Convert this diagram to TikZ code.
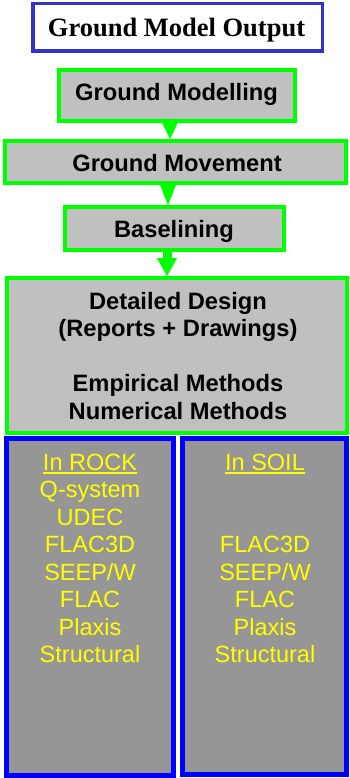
\documentclass[tikz,border=0pt]{standalone}
\usepackage{fontspec}
\setmainfont{Liberation Sans}
\newfontfamily\titlefont{Liberation Serif}
\usetikzlibrary{arrows.meta}
\definecolor{grn}{HTML}{00FF00}
\definecolor{lgrey}{HTML}{C0C0C0}
\definecolor{dgrey}{HTML}{969696}
\definecolor{tblue}{HTML}{3333CC}
\definecolor{bblue}{HTML}{0000FF}
\definecolor{ylw}{HTML}{FFFF00}
\newcommand{\myul}[1]{\setbox0\hbox{#1}\rlap{\rule[-3.3pt]{\wd0}{2pt}}\box0}
\begin{document}
\begin{tikzpicture}[x=1pt,y=-1pt,
  titlebox/.style={draw=tblue, line width=3.5pt, fill=white, inner sep=0pt},
  greenbox/.style={draw=grn, line width=4pt, fill=lgrey, inner sep=0pt},
  bluebox/.style={draw=bblue, line width=5pt, fill=dgrey, inner sep=0pt},
  btxt/.style={anchor=base, inner sep=0pt, font=\bfseries\fontsize{23.7}{27.5}\selectfont},
  ytxt/.style={anchor=base, inner sep=0pt, text=ylw, font=\fontsize{23.5}{27.5}\selectfont},
  tip/.style={draw=grn, fill=grn, line width=0.1pt, -{Triangle[length=#1,width=19pt,line width=0.1pt]}},
  shafttip/.style={draw=grn, line width=9pt, -{Triangle[length=18pt,width=20pt,line width=0.1pt]}}
]
\useasboundingbox[fill=white] (0,0) rectangle (349,778);

% boxes
\node[titlebox, minimum width=289.5pt, minimum height=47.5pt] (title) at (177.5,27.5) {};
\node[greenbox, minimum width=236pt, minimum height=51pt] (gm) at (177,95.5) {};
\node[greenbox, minimum width=341pt, minimum height=42pt] (gmov) at (175.5,162) {};
\node[greenbox, minimum width=219pt, minimum height=43pt] (bas) at (174.5,228.5) {};
\node[greenbox, minimum width=340pt, minimum height=155pt] (dd) at (177,355.5) {};
\node[bluebox, minimum width=167pt, minimum height=337pt] (rock) at (90,607) {};
\node[bluebox, minimum width=164pt, minimum height=336pt] (soil) at (264.5,606.5) {};

% connectors
\path (gm.south) ++(-7,0) coordinate (a1);
\draw[tip=20pt] (a1) -- (a1 |- gmov.north);
\path (gmov.south) ++(-7.5,0) coordinate (a2);
\draw[tip=24pt] (a2) -- (a2 |- bas.north);
\path (bas.south) ++(-7.5,0) coordinate (a3);
\draw[shafttip] (a3) -- (a3 |- dd.north);

% texts
\node[anchor=base, inner sep=0pt, font=\titlefont\bfseries\fontsize{26.5}{30}\selectfont] (ttl) at (176.5,37) {Ground Model Output};
\node[btxt] (t1) at (176.5,101) {Ground Modelling};
\node[btxt] (t2) at (177,171.5) {Ground Movement};
\node[btxt] (t3) at (174,237.5) {Baselining};
\node[btxt] (t4) at (178,309) {Detailed Design};
\node[btxt] (t5) at (178,336.5) {(Reports + Drawings)};
\node[btxt] (t6) at (178,391.5) {Empirical Methods};
\node[btxt] (t7) at (178,419) {Numerical Methods};

\node[ytxt] (r0) at (90,470.5) {\myul{In ROCK}};
\node[ytxt] (r1) at (90,497.5) {Q-system};
\node[ytxt] (r2) at (90,525) {UDEC};
\node[ytxt] (r3) at (90,552.5) {FLAC3D};
\node[ytxt] (r4) at (90,580) {SEEP/W};
\node[ytxt] (r5) at (90,607) {FLAC};
\node[ytxt] (r6) at (90,635) {Plaxis};
\node[ytxt] (r7) at (90,662) {Structural};

\node[ytxt] (s0) at (265,470.5) {\myul{In SOIL}};
\node[ytxt] (s3) at (265,552.5) {FLAC3D};
\node[ytxt] (s4) at (265,580) {SEEP/W};
\node[ytxt] (s5) at (265,607) {FLAC};
\node[ytxt] (s6) at (265,635) {Plaxis};
\node[ytxt] (s7) at (265,662) {Structural};
\end{tikzpicture}
\end{document}
